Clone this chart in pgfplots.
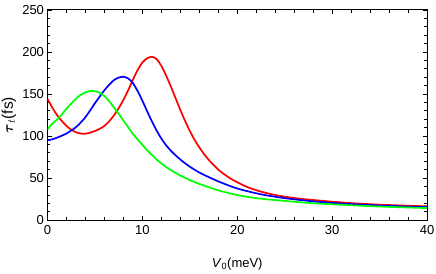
\documentclass[border=0pt]{standalone}
\usepackage{amsmath}
\usepackage{pgfplots}
\pgfplotsset{compat=1.18}
\usepackage{fontspec}
\setmainfont{Liberation Sans}
\definecolor{mred}{rgb}{1,0,0}
\definecolor{mblue}{rgb}{0,0,1}
\definecolor{mgreen}{rgb}{0,1,0}
\begin{document}
\begin{tikzpicture}
\useasboundingbox (0,0) rectangle (436pt,273pt);
\begin{axis}[
  at={(47.5pt,53pt)}, anchor=south west,
  scale only axis,
  width=379.5pt, height=210pt,
  xmin=0, xmax=40, ymin=0, ymax=250,
  xtick={0,10,20,30,40}, ytick={0,50,100,150,200,250},
  minor x tick num=4, minor y tick num=4,
  tick align=inside,
  major tick length=4.5pt, minor tick length=2.8pt,
  every tick/.style={black, line width=0.6pt},
  axis line style={line width=1pt},
  tick label style={font=\fontsize{13}{15}\selectfont},
  /pgf/number format/assume math mode=true,
  xticklabel style={yshift=-1.5pt},
  xlabel={\fontsize{13}{15}\selectfont\textit{V}\textsubscript{0}(meV)},
  ylabel={\fontsize{15.5}{17}\selectfont$\boldsymbol{\tau}_t$(fs)},
  xlabel style={at={(axis description cs:0.5,0)}, anchor=base, yshift=-47pt},
  ylabel style={at={(axis description cs:-0.091,0.5)}, anchor=base},
  clip=true,
]
\addplot[mred, line width=1.7pt, smooth] coordinates {
(0,144) (0.5,134) (1,125) (1.5,118) (2,112) (2.5,107.5) (3,104.5) (3.5,103) (4,102.8) (4.5,104)
(5,106) (5.5,108.5) (6,112) (6.5,117.5) (7,124.5) (7.5,133) (8,143) (8.5,154.5) (9,167) (9.5,178.5)
(10,187.5) (10.5,192.5) (11,194.3) (11.5,191.5) (12,183.5) (12.5,172) (13,159) (13.5,145) (14,131) (14.5,118)
(15,106) (15.5,95.5) (16,86.5) (16.5,78.5) (17,71.5) (17.5,65.5) (18,60) (18.5,55.5) (19,51.5) (19.5,48)
(20,45) (21,39.5) (22,35.5) (23,32.3) (24,29.8) (25,27.8) (26,26.2) (27,24.9) (28,23.8) (30,21.8)
(32,20.1) (34,18.8) (36,17.8) (38,17) (40,16.3)
};
\addplot[mblue, line width=1.7pt, smooth] coordinates {
(0,95) (0.5,96) (1,98) (1.5,100.3) (2,103) (2.5,106.5) (3,110.5) (3.5,116) (4,122.5) (4.5,130.5)
(5,139) (5.5,147) (6,154.5) (6.5,161) (7,166.5) (7.5,169.5) (8,170.5) (8.5,168.5) (9,163) (9.5,153.5)
(10,142) (10.5,129.5) (11,117.5) (11.5,106.5) (12,97) (12.5,89) (13,82.5) (13.5,77) (14,72) (14.5,67.5)
(15,63.5) (16,56.5) (17,51) (18,46) (19,41.5) (20,37.5) (21,34.5) (22,31.8) (23,29.5) (24,27.7)
(25,26) (26,24.6) (28,22.2) (30,20.3) (32,18.9) (34,17.7) (36,16.8) (38,16) (40,15.4)
};
\addplot[mgreen, line width=1.7pt, smooth] coordinates {
(0,108) (0.5,114.5) (1,119.5) (1.5,125.5) (2,132.5) (2.5,138.5) (3,144.5) (3.5,149) (4,152) (4.5,153.5)
(5,153.3) (5.5,151.5) (6,147.5) (6.5,141.5) (7,134) (7.5,126.5) (8,118.5) (8.5,110.5) (9,102.5) (9.5,96)
(10,89.5) (10.5,83) (11,77.5) (11.5,72) (12,67.5) (12.5,63) (13,59.5) (13.5,56) (14,53) (15,47.5)
(16,43) (17,39) (18,35.3) (19,32.3) (20,29.7) (21,27.7) (22,26) (23,24.8) (24,23.7) (25,22.7)
(26,21.7) (28,20) (30,18.7) (32,17.5) (34,16.5) (36,15.6) (38,14.9) (40,14.2)
};
\end{axis}
\end{tikzpicture}
\end{document}
